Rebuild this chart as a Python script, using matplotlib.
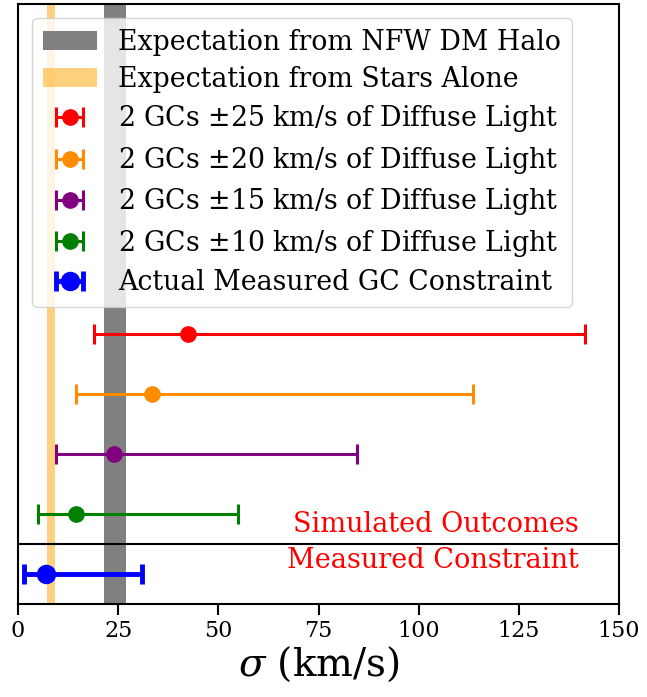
import matplotlib
matplotlib.use("Agg")
import matplotlib.pyplot as plt

plt.rcParams["font.family"] = "DejaVu Serif"
plt.rcParams["mathtext.fontset"] = "dejavuserif"

# simulated outcomes (top to bottom in the plot)
sim_labels = [
    r"2 GCs $\pm$25 km/s of Diffuse Light",
    r"2 GCs $\pm$20 km/s of Diffuse Light",
    r"2 GCs $\pm$15 km/s of Diffuse Light",
    r"2 GCs $\pm$10 km/s of Diffuse Light",
]
sim_colors = ["red", "darkorange", "purple", "green"]
sim_y = [4, 3, 2, 1]
sim_sigma = [42.4, 33.4, 24.0, 14.5]
sim_low = [19.0, 14.5, 9.5, 5.0]
sim_high = [141.5, 113.5, 84.6, 54.9]

# measured constraint
meas_sigma = 7.0
meas_low = 1.5
meas_high = 30.9

# expectation bands
nfw_band = (21.5, 27.0)
stars_band = (7.3, 9.2)

xticks = [0, 25, 50, 75, 100, 125, 150]

fig = plt.figure(figsize=(6.47, 6.97), dpi=100)
ax = fig.add_axes([18 / 647, 1 - 604 / 697, 601 / 647, 600 / 697])

ax.axvspan(*nfw_band, color="gray", lw=0, label="Expectation from NFW DM Halo")
ax.axvspan(*stars_band, color="orange", alpha=0.5, lw=0, label="Expectation from Stars Alone")

for lab, col, y, s, lo, hi in zip(sim_labels, sim_colors, sim_y, sim_sigma, sim_low, sim_high):
    ax.errorbar(s, y, xerr=[[s - lo], [hi - s]], fmt="o", color=col, ms=11,
                elinewidth=2.2, capsize=7, capthick=2.2, label=lab)

ax.errorbar(meas_sigma, 0, xerr=[[meas_sigma - meas_low], [meas_high - meas_sigma]],
            fmt="o", color="blue", ms=13, elinewidth=3.5, capsize=7, capthick=3.5,
            label="Actual Measured GC Constraint")

ax.axhline(0.5, color="black", lw=1.5)
ax.text(140, 0.82, "Simulated Outcomes", color="red", fontsize=19.5, ha="right", va="center")
ax.text(140, 0.23, "Measured Constraint", color="red", fontsize=19.5, ha="right", va="center")

ax.set_xlim(0, 150)
ax.set_ylim(-0.5, 9.5)
ax.set_xticks(xticks)
ax.set_yticks([])
ax.tick_params(axis="x", labelsize=16, length=8, width=1.5)
for sp in ax.spines.values():
    sp.set_linewidth(1.5)
ax.set_xlabel(r"$\sigma$ (km/s)", fontsize=28, labelpad=2)

ax.legend(loc="upper center", bbox_to_anchor=(0.4725, 0.977), fontsize=19.3,
          borderpad=0.4, labelspacing=0.39, handletextpad=0.8, borderaxespad=0)

fig.savefig("out.png", dpi=100)
